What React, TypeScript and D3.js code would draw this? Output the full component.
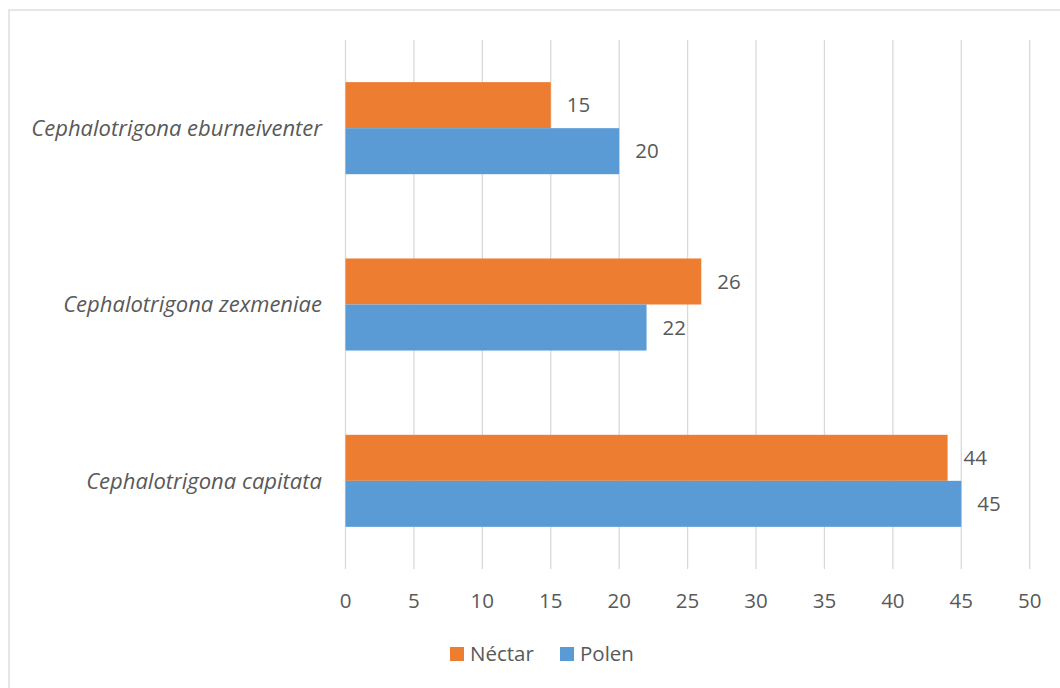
import React from "react";
import * as d3 from "d3";

const categories = [
  "Cephalotrigona eburneiventer",
  "Cephalotrigona zexmeniae",
  "Cephalotrigona capitata",
];
const seriesNames = ["Néctar", "Polen"];
const nectarValues = [15, 26, 44];
const polenValues = [20, 22, 45];
const xTicks = [0, 5, 10, 15, 20, 25, 30, 35, 40, 45, 50];
const colors = ["#ED7D31", "#5B9BD5"];

const W = 1060;
const H = 688;
const FONT = "'Open Sans', sans-serif";
const TEXT = "#595959";
const GRID = "#D9D9D9";
const FS = 20.5;

export default function App() {
  const x = d3.scaleLinear().domain([0, 50]).range([345.5, 1029.7]);
  const y = d3
    .scaleBand<string>()
    .domain(categories)
    .range([40, 569])
    .paddingInner(0.478)
    .paddingOuter(0.239);
  const inner = d3
    .scaleBand<string>()
    .domain(seriesNames)
    .range([0, y.bandwidth()]);
  const seriesValues = [nectarValues, polenValues];

  return (
    <svg
      width={W}
      height={H}
      style={{ position: "absolute", left: 0, top: 0, background: "#fff" }}
    >
      <rect x={9} y={10} width={1100} height={700} fill="#fff" stroke={GRID} strokeWidth={1.3} />
      {xTicks.map((t) => (
        <line key={t} x1={x(t)} x2={x(t)} y1={40} y2={569} stroke={GRID} strokeWidth={1.3} />
      ))}
      {categories.map((c, ci) =>
        seriesNames.map((s, si) => {
          const v = seriesValues[si][ci];
          const by = (y(c) ?? 0) + (inner(s) ?? 0);
          return (
            <g key={c + s}>
              <rect x={x(0)} y={by} width={x(v) - x(0)} height={inner.bandwidth()} fill={colors[si]} />
              <text
                x={x(v) + 16}
                y={by + inner.bandwidth() / 2}
                dy="0.35em"
                fontFamily={FONT}
                fontSize={FS}
                fill={TEXT}
              >
                {v}
              </text>
            </g>
          );
        })
      )}
      {categories.map((c) => (
        <text
          key={c}
          x={322}
          y={(y(c) ?? 0) + y.bandwidth() / 2}
          dy="0.35em"
          textAnchor="end"
          fontFamily={FONT}
          fontStyle="italic"
          fontSize={22}
          fill={TEXT}
        >
          {c}
        </text>
      ))}
      {xTicks.map((t) => (
        <text
          key={"l" + t}
          x={x(t)}
          y={601}
          dy="0.35em"
          textAnchor="middle"
          fontFamily={FONT}
          fontSize={FS}
          fill={TEXT}
        >
          {t}
        </text>
      ))}
      {seriesNames.map((s, i) => {
        const lx = i === 0 ? 450 : 560;
        return (
          <g key={"lg" + s}>
            <rect x={lx} y={647} width={14} height={14} fill={colors[i]} />
            <text x={lx + 20} y={654} dy="0.35em" fontFamily={FONT} fontSize={FS} fill={TEXT}>
              {s}
            </text>
          </g>
        );
      })}
    </svg>
  );
}
